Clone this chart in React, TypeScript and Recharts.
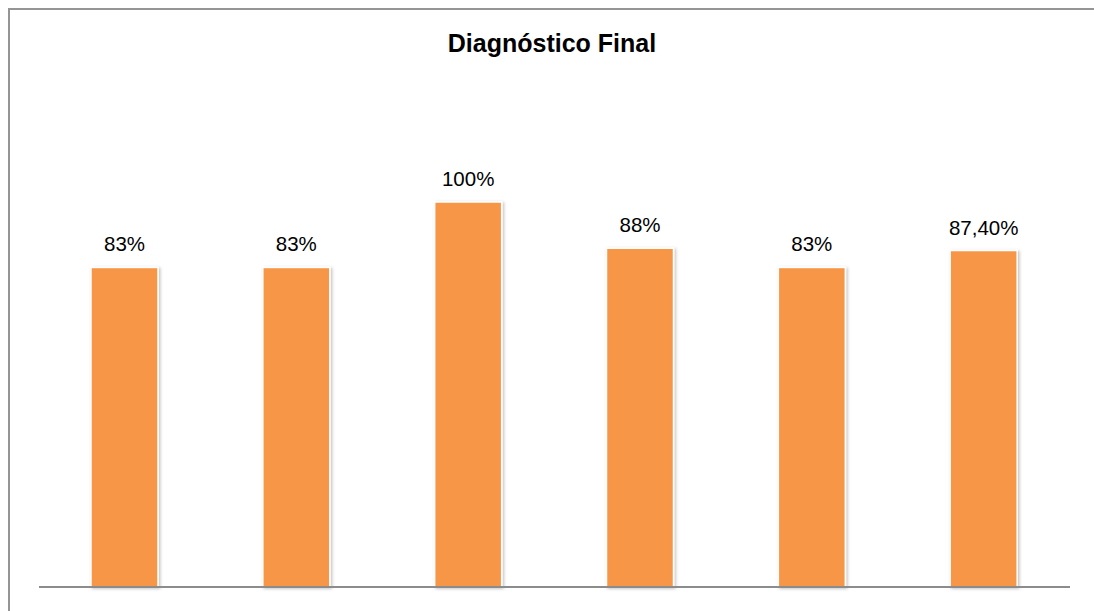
import { BarChart, Bar, XAxis, YAxis, LabelList } from "recharts";

// one bar per evaluated area, values in percent
const categories = ["A1", "A2", "A3", "A4", "A5", "A6"];
const values = [83, 83, 100, 88, 83, 87.4];

const chartTitle = "Diagnóstico Final";

const data = categories.map((name, i) => ({ name, value: values[i] }));

const formatPct = (v: number) =>
    Number.isInteger(v) ? `${v}%` : `${v.toFixed(2).replace(".", ",")}%`;

// orange bar with a thin white edge and a soft shadow
const ShadowBar = (props: any) => {
    const { x, y, width, height } = props;
    return (
        <rect
            x={x}
            y={y}
            width={width}
            height={height}
            fill="#F79646"
            stroke="#ffffff"
            strokeWidth={1.5}
            filter="url(#barShadow)"
        />
    );
};

export default function App() {
    return (
        <>
            <style>{"html,body{margin:0;overflow:hidden;}"}</style>
            {/* frame runs past the right and bottom edges of the page */}
            <div
                style={{
                    position: "absolute",
                    left: 8,
                    top: 8,
                    width: 1200,
                    height: 700,
                    overflow: "hidden",
                    borderLeft: "2px solid #959595",
                    borderTop: "2px solid #959595",
                    background: "#fff",
                }}
            >
                <BarChart
                    width={1150}
                    height={660}
                    data={data}
                    margin={{ top: 192, right: 90, left: 29, bottom: 81 }}
                    barSize={67}
                >
                    <defs>
                        <filter id="barShadow" x="-20%" y="-5%" width="140%" height="110%">
                            <feDropShadow dx="1.5" dy="1" stdDeviation="1.8" floodColor="#000" floodOpacity={0.25} />
                        </filter>
                    </defs>
                    <text
                        x={542}
                        y={42}
                        textAnchor="middle"
                        fontFamily="'Liberation Sans', Arial, sans-serif"
                        fontWeight="bold"
                        fontSize={25}
                        fill="#000"
                    >
                        {chartTitle}
                    </text>
                    <XAxis
                        dataKey="name"
                        tick={false}
                        tickLine={false}
                        height={2}
                        axisLine={{ stroke: "#8c8c8c", strokeWidth: 2 }}
                    />
                    <YAxis hide domain={[0, 100]} />
                    <Bar dataKey="value" shape={ShadowBar} isAnimationActive={false}>
                        <LabelList
                            dataKey="value"
                            position="top"
                            offset={16}
                            formatter={(v: any) => formatPct(Number(v))}
                            style={{
                                fontFamily: "'Liberation Sans', Arial, sans-serif",
                                fontSize: 20.5,
                                fill: "#000",
                            }}
                        />
                    </Bar>
                </BarChart>
            </div>
        </>
    );
}
